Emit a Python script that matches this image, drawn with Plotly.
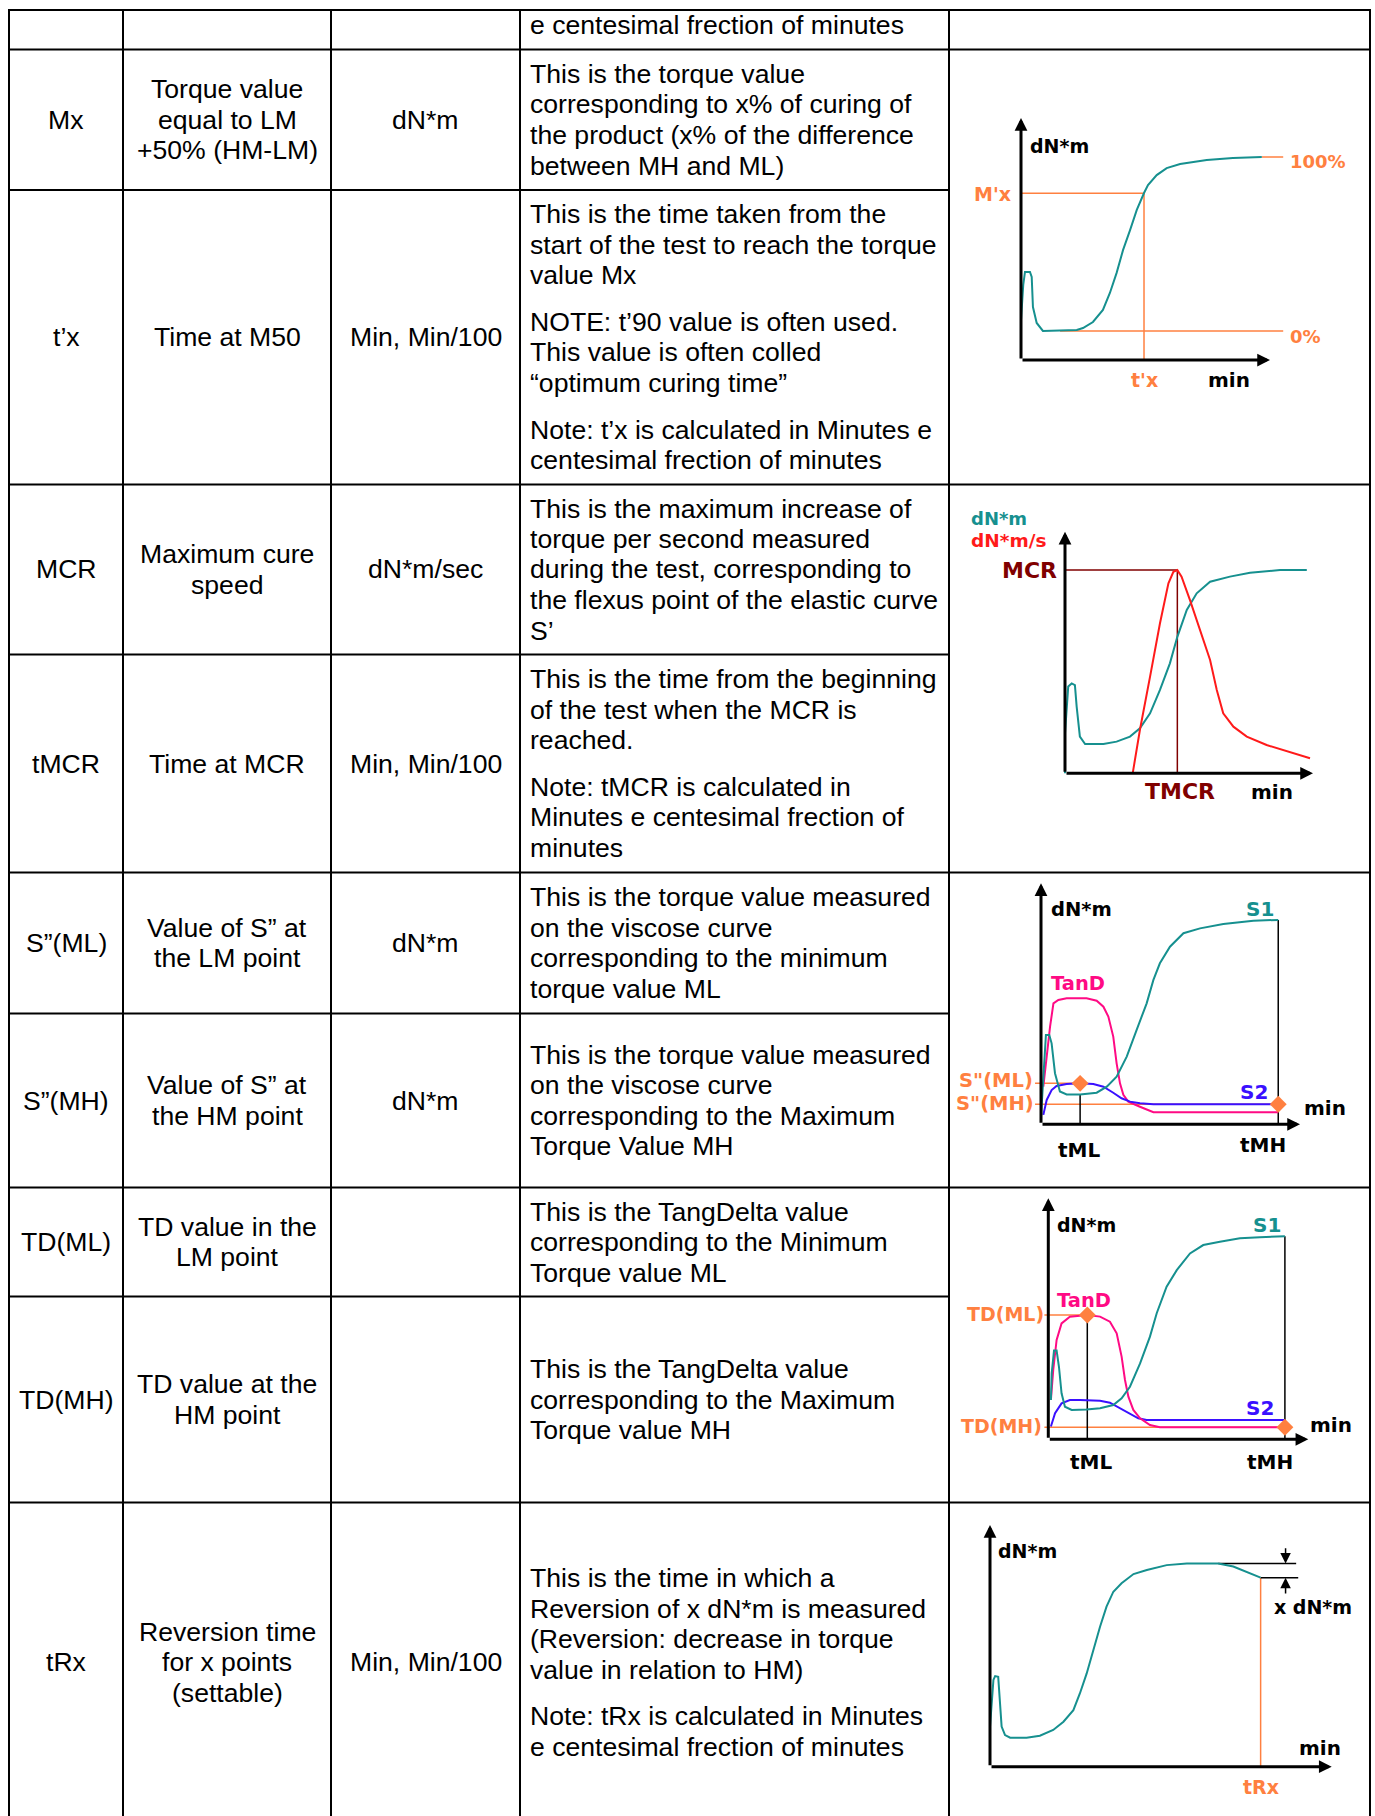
import plotly.graph_objects as go

W, H = 1375, 1816

# ---------------- table content ----------------
symbols = ["", "Mx", "t’x", "MCR", "tMCR", "S”(ML)", "S”(MH)", "TD(ML)", "TD(MH)", "tRx"]
descriptions = [
    [],
    ["Torque value", "equal to LM", "+50% (HM-LM)"],
    ["Time at M50"],
    ["Maximum cure", "speed"],
    ["Time at MCR"],
    ["Value of S” at", "the LM point"],
    ["Value of S” at", "the HM point"],
    ["TD value in the", "LM point"],
    ["TD value at the", "HM point"],
    ["Reversion time", "for x points", "(settable)"],
]
units = ["", "dN*m", "Min, Min/100", "dN*m/sec", "Min, Min/100", "dN*m", "dN*m", "", "", "Min, Min/100"]
explanations = [
    [["e centesimal frection of minutes"]],
    [["This is the torque value", "corresponding to x% of curing of",
      "the product (x% of the difference", "between MH and ML)"]],
    [["This is the time taken from the", "start of the test to reach the torque", "value Mx"],
     ["NOTE: t’90 value is often used.", "This value is often colled", "“optimum curing time”"],
     ["Note: t’x is calculated in Minutes e", "centesimal frection of minutes"]],
    [["This is the maximum increase of", "torque per second measured",
      "during the test, corresponding to", "the flexus point of the elastic curve", "S’"]],
    [["This is the time from the beginning", "of the test when the MCR is", "reached."],
     ["Note: tMCR is calculated in", "Minutes e centesimal frection of", "minutes"]],
    [["This is the torque value measured", "on the viscose curve",
      "corresponding to the minimum", "torque value ML"]],
    [["This is the torque value measured", "on the viscose curve",
      "corresponding to the Maximum", "Torque Value MH"]],
    [["This is the TangDelta value", "corresponding to the Minimum", "Torque value ML"]],
    [["This is the TangDelta value", "corresponding to the Maximum", "Torque value MH"]],
    [["This is the time in which a", "Reversion of x dN*m is measured",
      "(Reversion: decrease in torque", "value in relation to HM)"],
     ["Note: tRx is calculated in Minutes", "e centesimal frection of minutes"]],
]

# ---------------- diagram data (axis units: origin 0, arrow tip 100) ----------------
# Diagram 1: Mx / t'x
d1_time = [0, 0, 0.9, 1.6, 3.6, 4.3, 4.8, 6.3, 8.8, 22.4, 24.9, 28.9, 32.9, 35.7, 38.4, 41.0,
           43.8, 46.5, 49.4, 51.0, 54.5, 58.5, 63.9, 74.6, 85.1, 96.7]
d1_torque = [0.8, 16.5, 31.0, 36.4, 36.4, 34.3, 21.9, 15.3, 12.0, 12.4, 13.2, 15.7, 20.7, 27.7, 36.0,
             45.5, 53.7, 62.0, 69.0, 72.3, 76.4, 79.3, 81.0, 82.6, 83.5, 83.9]
d1_level_0 = 12.0
d1_level_100 = 83.9
d1_mx = 68.9
d1_tx = 49.4
d1_ref0_start = 15.7
d1_ref_end = 105.3

# Diagram 2: MCR / tMCR
d2_time = [0, 0, 1.3, 2.7, 4.0, 4.7, 6.0, 8.1, 15.5, 20.8, 26.2, 30.2, 34.3, 38.3, 42.3, 45.3,
           49.1, 53.1, 58.5, 66.5, 74.6, 86.7, 97.5]
d2_torque = [0, 16.6, 35.9, 37.2, 36.5, 27.6, 15.2, 12.1, 12.1, 13.1, 15.2, 18.6, 24.8, 34.5, 45.5,
             56.5, 67.6, 74.5, 79.3, 81.4, 83.0, 84.1, 84.1]
d2_rate_time = [27.3, 30.2, 34.3, 38.3, 41.7, 43.7, 45.3, 47.0, 50.4, 54.4, 58.5, 61.2, 63.8, 67.9,
                73.3, 81.3, 90.7, 98.8]
d2_rate = [0, 17.9, 40.0, 62.1, 78.6, 83.4, 84.1, 81.4, 71.7, 59.3, 46.9, 34.5, 24.8, 19.3, 15.2,
           11.7, 8.9, 6.2]
d2_mcr = 84.1
d2_tmcr = 45.3

# Diagram 3: S"(ML) / S"(MH)
d3_time_s1 = [0, 1.2, 1.9, 3.2, 4.1, 5.4, 7.3, 9.9, 15.1, 21.5, 25.4, 29.2, 33.1, 36.9, 40.8, 43.4,
              45.9, 49.8, 55.0, 61.4, 70.4, 82.0, 91.6]
d3_s1 = [3.2, 22.5, 37.1, 37.1, 33.6, 21.2, 13.6, 12.4, 12.4, 13.1, 15.6, 19.8, 28.1, 39.1, 50.2,
         59.9, 66.8, 73.7, 79.3, 81.3, 83.1, 84.5, 84.8]
d3_time_td = [0.9, 2.2, 3.5, 4.8, 6.7, 9.9, 17.6, 21.5, 24.1, 26.0, 27.9, 29.2, 30.5, 31.8, 33.7,
              38.2, 43.4, 91.6]
d3_tand = [15.6, 28.1, 40.5, 50.2, 51.6, 52.3, 52.3, 51.3, 48.8, 44.7, 36.4, 25.3, 17.0, 12.2, 9.4,
           7.3, 5.0, 5.0]
d3_time_s2 = [0.9, 2.2, 4.1, 6.0, 9.9, 15.1, 20.2, 24.1, 27.9, 31.1, 34.4, 38.2, 43.4, 91.6]
d3_s2 = [3.9, 10.1, 14.2, 15.9, 16.7, 17.0, 16.7, 15.6, 13.1, 10.8, 9.4, 8.7, 8.3, 8.3]
d3_tml, d3_tmh = 15.1, 91.6
d3_s1_ml, d3_s1_mh = 12.4, 84.8
d3_s2_ml, d3_s2_mh = 17.0, 8.3

# Diagram 4: TD(ML) / TD(MH)
d4_time_s1 = [1.0, 1.3, 2.2, 3.2, 4.1, 5.1, 6.4, 9.0, 14.7, 19.9, 25.0, 28.2, 31.4, 35.3, 39.1, 41.7,
              45.5, 49.4, 54.5, 59.6, 66.0, 73.7, 81.4, 91.0]
d4_s1 = [16.3, 27.4, 36.8, 36.8, 30.1, 19.1, 13.5, 12.2, 12.4, 12.9, 14.2, 17.0, 21.8, 31.5, 42.6,
         52.3, 63.3, 70.2, 77.1, 80.6, 82.0, 83.4, 83.8, 84.3]
d4_time_td = [1.0, 1.9, 3.2, 5.1, 8.3, 15.0, 19.9, 23.7, 26.3, 28.2, 29.5, 30.8, 32.7, 35.3, 39.1,
              42.9, 91.0]
d4_tand = [16.3, 28.8, 41.2, 48.1, 50.9, 51.6, 50.9, 48.8, 44.0, 34.3, 24.6, 17.7, 12.2, 8.7, 5.9,
           5.0, 5.0]
d4_time_s2 = [1.0, 2.6, 5.1, 8.3, 12.2, 19.9, 23.7, 27.6, 30.8, 34.6, 37.8, 91.0]
d4_s2 = [5.3, 10.8, 14.9, 16.3, 16.3, 16.0, 15.2, 12.9, 10.8, 8.7, 8.0, 8.0]
d4_tml, d4_tmh = 15.0, 91.0
d4_td_ml, d4_td_mh = 51.6, 5.0
d4_s1_mh = 84.3

# Diagram 5: tRx
d5_time = [0, 0, 1.0, 1.5, 2.4, 2.9, 3.4, 4.4, 5.9, 10.7, 14.6, 18.5, 21.5, 24.4, 26.3, 28.3, 30.2,
           32.2, 34.1, 36.1, 38.5, 42.0, 45.9, 51.7, 57.6, 66.8, 71.2, 75.1, 79.2]
d5_torque = [0.7, 16.6, 35.9, 37.5, 37.2, 27.6, 16.6, 13.1, 12.0, 12.0, 12.8, 15.2, 18.6, 23.4, 30.3,
             38.6, 48.3, 57.9, 66.2, 72.4, 75.9, 79.7, 81.4, 83.4, 84.1, 84.1, 82.8, 80.7, 78.2]
d5_mh = 84.1
d5_trx = 79.2
d5_rev = 78.2

# ---------------- layout constants ----------------
col_x = [9, 123, 331, 520, 949, 1370]
row_y = [10, 49.5, 190, 484.5, 654.5, 872.5, 1013.5, 1187.5, 1296.5, 1502.5, 1822]
full_lines = {0, 1, 3, 5, 7, 9}
LINE = 30.5
GAP = 16
TFONT = dict(family="Liberation Sans, Arial, sans-serif", size=26.6, color="black")
DFONT = "DejaVu Sans, Verdana, sans-serif"

TEAL = "#16908f"
ORANGE = "#ff8040"
RED = "#ff1a1a"
DARKRED = "#800000"
PINK = "#ff0a84"
BLUE = "#3a10ff"
BLACK = "black"


def fx(x):
    return x / W


def fy(y):
    return 1 - y / H


fig = go.Figure()
shapes = []
annotations = []

# table grid
for x in col_x:
    shapes.append(dict(type="line", xref="paper", yref="paper", x0=fx(x), x1=fx(x),
                       y0=fy(row_y[0] - 1), y1=fy(H + 20), line=dict(color="black", width=2)))
for i, y in enumerate(row_y[:-1]):
    xe = col_x[-1] if i in full_lines else col_x[4]
    shapes.append(dict(type="line", xref="paper", yref="paper", x0=fx(col_x[0] - 1), x1=fx(xe + 1),
                       y0=fy(y), y1=fy(y), line=dict(color="black", width=2)))


def add_text(text, x, y, anchor):
    annotations.append(dict(xref="paper", yref="paper", x=fx(x), y=fy(y), text=text,
                            showarrow=False, xanchor=anchor, yanchor="middle", font=TFONT))


def place(paragraphs, center=None, start=None):
    n = sum(len(p) for p in paragraphs)
    span = (n - 1) * LINE + (len(paragraphs) - 1) * GAP
    y = start if start is not None else center - span / 2
    out = []
    for p in paragraphs:
        for txt in p:
            out.append((txt, y))
            y += LINE
        y += GAP
    return out


col_centers = [(col_x[i] + col_x[i + 1]) / 2 for i in range(3)]
for r in range(10):
    top, bot = row_y[r], row_y[r + 1]
    c = (top + bot) / 2
    if symbols[r]:
        add_text(symbols[r], col_centers[0], c, "center")
    if descriptions[r]:
        for txt, y in place([descriptions[r]], center=c):
            add_text(txt, col_centers[1], y, "center")
    if units[r]:
        add_text(units[r], col_centers[2], c, "center")
    if r == 0:
        lines = place(explanations[r], start=top + 15.5)
    else:
        lines = place(explanations[r], center=c)
    for txt, y in lines:
        add_text(txt, col_x[3] + 7.5, y, "left")

# ---------------- diagrams ----------------
# (cell x0, cell y0, cell x1, cell y1, origin x, origin y, x-tip x, y-tip y) in page pixels
geoms = [
    (949, 49.5, 1370, 484.5, 1021, 360, 1270, 118),
    (949, 484.5, 1370, 872.5, 1065, 773.3, 1313, 531.7),
    (949, 872.5, 1370, 1187.5, 1041, 1124.3, 1300, 883.3),
    (949, 1187.5, 1370, 1502.5, 1048.3, 1439.3, 1308.3, 1198.3),
    (949, 1502.5, 1370, 1816, 990, 1766.7, 1331.7, 1525),
]
layout_axes = {}
for i, (cx0, cy0, cx1, cy1, ox, oy, tx, ty) in enumerate(geoms):
    k = i + 2
    sx = (tx - ox) / 100
    sy = (oy - ty) / 100
    layout_axes[f"xaxis{k}"] = dict(domain=[cx0 / W, cx1 / W], range=[(cx0 - ox) / sx, (cx1 - ox) / sx],
                                    visible=False, anchor=f"y{k}", fixedrange=True)
    layout_axes[f"yaxis{k}"] = dict(domain=[1 - cy1 / H, 1 - cy0 / H], range=[(oy - cy1) / sy, (oy - cy0) / sy],
                                    visible=False, anchor=f"x{k}", fixedrange=True)
    for (x1, y1) in [(0, 100), (100, 0)]:
        annotations.append(dict(xref=f"x{k}", yref=f"y{k}", axref=f"x{k}", ayref=f"y{k}",
                                x=x1, y=y1, ax=0, ay=0, text="", showarrow=True, arrowhead=2,
                                arrowwidth=3, arrowsize=0.85, arrowcolor="black"))


def line(k, xs, ys, color, width=2):
    fig.add_trace(go.Scatter(x=xs, y=ys, mode="lines", line=dict(color=color, width=width),
                             xaxis=f"x{k}", yaxis=f"y{k}", hoverinfo="skip", showlegend=False))


def diamond(k, xs, ys):
    fig.add_trace(go.Scatter(x=xs, y=ys, mode="markers",
                             marker=dict(symbol="diamond", size=13, color=ORANGE),
                             xaxis=f"x{k}", yaxis=f"y{k}", hoverinfo="skip", showlegend=False))


def label(k, text, x, y, color, anchor, size=19):
    annotations.append(dict(xref=f"x{k}", yref=f"y{k}", x=x, y=y, text=text, showarrow=False,
                            xanchor=anchor, yanchor="middle", borderpad=0,
                            font=dict(family=DFONT, size=size, color=color, weight="bold")))


# Diagram 1
line(2, [0, d1_tx], [d1_mx, d1_mx], ORANGE, 1.5)
line(2, [d1_tx, d1_tx], [d1_mx, 0], ORANGE, 1.5)
line(2, [d1_ref0_start, d1_ref_end], [d1_level_0, d1_level_0], ORANGE, 1.5)
line(2, [d1_time[-1], d1_ref_end], [d1_level_100, d1_level_100], ORANGE, 1.5)
line(2, d1_time, d1_torque, TEAL)
label(2, "dN*m", 3.2, 88.4, BLACK, "left", 19)
label(2, "100%", 107.6, 82.0, ORANGE, "left", 18)
label(2, "0%", 107.6, 9.6, ORANGE, "left", 18)
label(2, "M'x", -3.6, 68.5, ORANGE, "right", 19)
label(2, "t'x", d1_tx, -8.3, ORANGE, "center", 19)
label(2, "min", 83.7, -8.3, BLACK, "center", 20)

# Diagram 2
line(3, [0, d2_tmcr], [d2_mcr, d2_mcr], DARKRED, 1.5)
line(3, [d2_tmcr, d2_tmcr], [d2_mcr, 0], DARKRED, 1.5)
line(3, d2_time, d2_torque, TEAL)
line(3, d2_rate_time, d2_rate, RED)
label(3, "dN*m", -38.3, 105.6, TEAL, "left", 18)
label(3, "dN*m/s", -38.3, 96.2, RED, "left", 18.5)
label(3, "MCR", -2.8, 84.1, DARKRED, "right", 22)
label(3, "TMCR", 46.4, -7.6, DARKRED, "center", 22)
label(3, "min", 83.5, -7.6, BLACK, "center", 20)

# Diagram 3
line(4, [-2.3, d3_tml], [d3_s2_ml, d3_s2_ml], ORANGE, 1.5)
line(4, [-2.3, d3_tmh], [d3_s2_mh, d3_s2_mh], ORANGE, 1.5)
line(4, [d3_tml, d3_tml], [0, d3_s1_ml], BLACK, 1.5)
line(4, [d3_tmh, d3_tmh], [0, d3_s1_mh], BLACK, 1.5)
line(4, d3_time_td, d3_tand, PINK)
line(4, d3_time_s2, d3_s2, BLUE)
line(4, d3_time_s1, d3_s1, TEAL)
diamond(4, [d3_tml, d3_tmh], [d3_s2_ml, d3_s2_mh])
label(4, "dN*m", 3.5, 89.2, BLACK, "left", 19.5)
label(4, "S1", 84.7, 89.2, TEAL, "center", 20)
label(4, "TanD", 14.4, 58.5, PINK, "center", 19.5)
label(4, "S2", 82.1, 13.6, BLUE, "center", 20)
label(4, "min", 101, 6.6, BLACK, "left", 20)
label(4, 'S"(ML)', -2.6, 18.1, ORANGE, "right", 19.5)
label(4, 'S"(MH)', -2.3, 8.7, ORANGE, "right", 19.5)
label(4, "tML", 14.7, -10.6, BLACK, "center", 20)
label(4, "tMH", 85.8, -8.6, BLACK, "center", 20)

# Diagram 4
line(5, [-1.5, d4_tml], [d4_td_ml, d4_td_ml], ORANGE, 1.5)
line(5, [-1.5, d4_tmh], [d4_td_mh, d4_td_mh], ORANGE, 1.5)
line(5, [d4_tml, d4_tml], [0, d4_td_ml], BLACK, 1.5)
line(5, [d4_tmh, d4_tmh], [0, d4_s1_mh], BLACK, 1.5)
line(5, d4_time_s2, d4_s2, BLUE)
line(5, d4_time_td, d4_tand, PINK)
line(5, d4_time_s1, d4_s1, TEAL)
diamond(5, [d4_tml, d4_tmh], [d4_td_ml, d4_td_mh])
label(5, "dN*m", 2.9, 88.9, BLACK, "left", 19)
label(5, "S1", 84.1, 88.9, TEAL, "center", 20)
label(5, "TanD", 13.8, 57.8, PINK, "center", 19.5)
label(5, "TD(ML)", -1.3, 51.8, ORANGE, "right", 19)
label(5, "TD(MH)", -1.9, 5.5, ORANGE, "right", 19)
label(5, "S2", 81.4, 12.9, BLUE, "center", 20)
label(5, "min", 100.4, 5.9, BLACK, "left", 20)
label(5, "tML", 16.3, -9.3, BLACK, "center", 20)
label(5, "tMH", 85.3, -9.3, BLACK, "center", 20)

# Diagram 5
line(6, [d5_trx, d5_trx], [0, d5_rev], ORANGE, 1.5)
line(6, [66.8, 89.6], [d5_mh, d5_mh], BLACK, 1.5)
line(6, [d5_trx, 90.2], [d5_rev, d5_rev], BLACK, 1.5)
line(6, d5_time, d5_torque, TEAL)
for (y0, y1) in [(91.0, d5_mh), (71.0, d5_rev)]:
    annotations.append(dict(xref="x6", yref="y6", axref="x6", ayref="y6", x=86.5, y=y1, ax=86.5, ay=y0,
                            text="", showarrow=True, arrowhead=2, arrowwidth=1.5, arrowsize=1.4,
                            arrowcolor="black"))
label(6, "dN*m", 2.0, 89.4, BLACK, "left", 19)
label(6, "x dN*m", 82.9, 66.2, BLACK, "left", 19)
label(6, "min", 90.2, 7.6, BLACK, "left", 20)
label(6, "tRx", d5_trx, -8.3, ORANGE, "center", 19)

fig.update_layout(
    width=W, height=H,
    margin=dict(l=0, r=0, t=0, b=0),
    paper_bgcolor="white", plot_bgcolor="rgba(0,0,0,0)",
    xaxis=dict(visible=False), yaxis=dict(visible=False),
    shapes=shapes, annotations=annotations,
    showlegend=False,
    **layout_axes,
)

fig.write_html("out.html", config={"displayModeBar": False},
               post_script="document.body.style.margin='0px';")
